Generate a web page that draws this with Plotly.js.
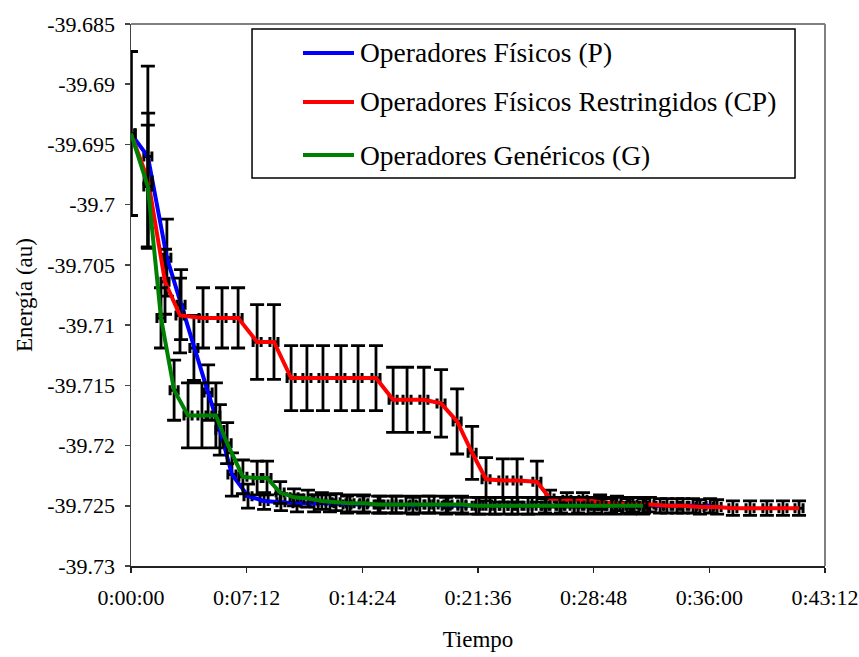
<!DOCTYPE html>
<html>
<head>
<meta charset="utf-8">
<script src="https://cdn.plot.ly/plotly-3.0.1.min.js"></script>
<style>html,body{margin:0;padding:0;background:#fff;}#chart{width:859px;height:657px;}</style>
</head>
<body>
<div id="chart"></div>
<script>
// Time in seconds from start, energy in au
const tiempoP = [0,63,134,187,235,288,332,377,437,497,560,620,684,743,807,867,930,990,1053,1113,1177,1236,1300,1360,1423,1483,1546,1606,1670,1730,1793,1853,1916,1976,2039,2099,2163];
const energiaP = [-39.6941,-39.6960,-39.7044,-39.7083,-39.7119,-39.7156,-39.7187,-39.7224,-39.7242,-39.7246,-39.7247,-39.7248,-39.7248,-39.7248,-39.7249,-39.7249,-39.7249,-39.7249,-39.7250,-39.7249,-39.7250,-39.7250,-39.7250,-39.7250,-39.7250,-39.7250,-39.7250,-39.7250,-39.7250,-39.7250,-39.7250,-39.7250,-39.7250,-39.7250,-39.7250,-39.7250,-39.7250];
const errorP = [0.0068,0.0075,0.0032,0.0029,0.0027,0.0023,0.0021,0.0018,0.0010,0.0007,0.0007,0.0007,0.0007,0.0007,0.0007,0.0007,0.0007,0.0007,0.0007,0.0007,0.0007,0.0007,0.0007,0.0007,0.0007,0.0007,0.0006,0.0006,0.0006,0.0006,0.0006,0.0006,0.0006,0.0006,0.0006,0.0006,0.0006];

const tiempoCP = [0,64,127,183,269,340,400,471,534,598,657,717,784,848,915,979,1031,1094,1158,1218,1274,1326,1389,1442,1516,1565,1628,1688,1752,1815,1875,1938,2002,2062,2125,2189,2248,2312,2375,2435,2495];
const energiaCP = [-39.6941,-39.6980,-39.7064,-39.7092,-39.7094,-39.7094,-39.7094,-39.7114,-39.7114,-39.7144,-39.7144,-39.7144,-39.7144,-39.7144,-39.7144,-39.7162,-39.7162,-39.7162,-39.7165,-39.7180,-39.7206,-39.7228,-39.7229,-39.7229,-39.7230,-39.7244,-39.7245,-39.7245,-39.7247,-39.7248,-39.7249,-39.7249,-39.7250,-39.7250,-39.7251,-39.7251,-39.7252,-39.7252,-39.7252,-39.7252,-39.7252];
const errorCP = [0.0068,0.0056,0.0027,0.0031,0.0025,0.0025,0.0025,0.0031,0.0031,0.0027,0.0027,0.0027,0.0027,0.0027,0.0027,0.0027,0.0027,0.0027,0.0028,0.0027,0.0022,0.0018,0.0018,0.0018,0.0017,0.0007,0.0006,0.0006,0.0006,0.0006,0.0006,0.0006,0.0006,0.0006,0.0006,0.0006,0.0006,0.0006,0.0006,0.0006,0.0006];

const tiempoG = [0,63,112,161,213,265,317,359,418,471,508,557,609,661,713,766,818,870,923,975,1027,1079,1132,1184,1236,1289,1341,1393,1445,1498,1550,1602,1655,1707,1759,1811,1864,1912];
const energiaG = [-39.6941,-39.6985,-39.7094,-39.7154,-39.7175,-39.7175,-39.7175,-39.7198,-39.7226,-39.7227,-39.7227,-39.7239,-39.7243,-39.7244,-39.7246,-39.7247,-39.7248,-39.7248,-39.7249,-39.7249,-39.7249,-39.7249,-39.7249,-39.7249,-39.7249,-39.7250,-39.7250,-39.7250,-39.7250,-39.7250,-39.7250,-39.7250,-39.7250,-39.7250,-39.7250,-39.7250,-39.7250,-39.7250];
const errorG = [0.0068,0.0051,0.0025,0.0025,0.0027,0.0027,0.0027,0.0017,0.0014,0.0014,0.0014,0.0009,0.0007,0.0007,0.0007,0.0007,0.0007,0.0007,0.0007,0.0007,0.0007,0.0007,0.0007,0.0007,0.0007,0.0007,0.0007,0.0007,0.0007,0.0007,0.0007,0.0007,0.0007,0.0007,0.0007,0.0007,0.0007,0.0007];

const errorTiempo = 15;

const xTickVals = [0,432,864,1296,1728,2160,2592];
const xTickText = ["0:00:00","0:07:12","0:14:24","0:21:36","0:28:48","0:36:00","0:43:12"];
const yTickVals = [-39.73,-39.725,-39.72,-39.715,-39.71,-39.705,-39.7,-39.695,-39.69,-39.685];
const yTickText = ["-39.73","-39.725","-39.72","-39.715","-39.71","-39.705","-39.7","-39.695","-39.69","-39.685"];

const seriesNames = ["Operadores Físicos (P)","Operadores Físicos Restringidos (CP)","Operadores Genéricos (G)"];
const seriesColors = ["#0000FF","#FF0000","#008000"];

const FONT = "Liberation Serif";

function mk(x, y, err, i) {
  return {
    x: x, y: y, type: 'scatter', mode: 'lines', name: seriesNames[i],
    line: {color: seriesColors[i], width: 4},
    error_y: {type: 'data', array: err, visible: true, color: '#000', thickness: 2.8, width: 7},
    error_x: {type: 'constant', value: errorTiempo, visible: true, color: '#000', thickness: 3, width: 5},
    showlegend: false, hoverinfo: 'skip'
  };
}

const traces = [
  mk(tiempoP, energiaP, errorP, 0),
  mk(tiempoCP, energiaCP, errorCP, 1),
  mk(tiempoG, energiaG, errorG, 2)
];

// manual legend (paper coords relative to plot area)
const legBox = {x0: 0.1744, x1: 0.9568, y0: 0.7159, y1: 0.9908};
const legRowsY = [0.9465, 0.8561, 0.7583];
const shapes = [
  {type: 'line', xref: 'paper', yref: 'paper', x0: 0, x1: 1, y0: 1, y1: 1, line: {color: '#808080', width: 2}},
  {type: 'line', xref: 'paper', yref: 'paper', x0: 1, x1: 1, y0: 0, y1: 1, line: {color: '#808080', width: 2}},
  {type: 'rect', xref: 'paper', yref: 'paper', x0: legBox.x0, x1: legBox.x1, y0: legBox.y0, y1: legBox.y1, line: {color: '#000', width: 1.5}, fillcolor: 'rgba(255,255,255,1)', layer: 'above'}
];
const annotations = [];
seriesNames.forEach((n, i) => {
  shapes.push({type: 'line', xref: 'paper', yref: 'paper', x0: 0.2478, x1: 0.3213, y0: legRowsY[i], y1: legRowsY[i], line: {color: seriesColors[i], width: 4}, layer: 'above'});
  annotations.push({xref: 'paper', yref: 'paper', x: 0.3271, y: legRowsY[i], xanchor: 'left', yanchor: 'middle', text: n, showarrow: false, font: {family: FONT, size: 27.5, color: '#000'}});
});

const layout = {
  width: 859, height: 657,
  margin: {l: 131, r: 34, t: 24, b: 91, pad: 0},
  paper_bgcolor: '#fff', plot_bgcolor: '#fff',
  font: {family: FONT, size: 20, color: '#000'},
  xaxis: {
    range: [0, 2592], tickmode: 'array', tickvals: xTickVals, ticktext: xTickText,
    showgrid: false, zeroline: false, showline: true, linecolor: '#222', linewidth: 1.5,
    ticks: 'outside', ticklen: 5, tickcolor: '#222', tickwidth: 1.5,
    tickfont: {family: FONT, size: 22, color: '#000'},
    ticklabelstandoff: 6,
    title: {text: 'Tiempo', font: {family: FONT, size: 23, color: '#000'}, standoff: 22}
  },
  yaxis: {
    range: [-39.73, -39.685], tickmode: 'array', tickvals: yTickVals, ticktext: yTickText,
    showgrid: false, zeroline: false, showline: true, linecolor: '#444', linewidth: 1.5,
    ticks: 'outside', ticklen: 5, tickcolor: '#444', tickwidth: 1.5,
    tickfont: {family: FONT, size: 22, color: '#000'},
    ticklabelstandoff: 5,
    title: {text: 'Energía (au)', font: {family: FONT, size: 23, color: '#000'}, standoff: 8}
  },
  shapes: shapes, annotations: annotations, showlegend: false
};

Plotly.newPlot('chart', traces, layout, {displayModeBar: false, staticPlot: true});
</script>
</body>
</html>
